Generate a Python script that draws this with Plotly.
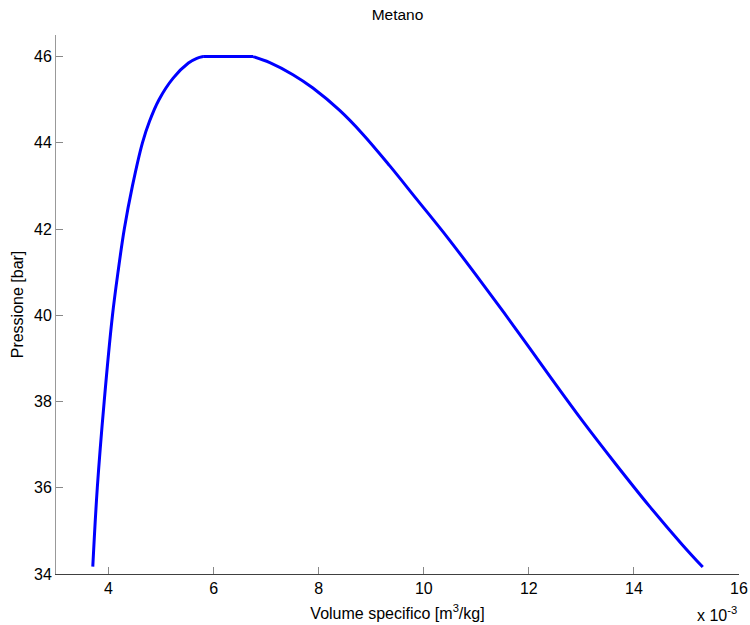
import plotly.graph_objects as go

# Saturation curve of methane: specific volume [m^3/kg] vs pressure [bar]
# saturated liquid branch
v_liquid = [0.003700, 0.003786, 0.003917, 0.004075, 0.004180, 0.004300,
            0.004455, 0.004645, 0.004780, 0.004960, 0.005230, 0.005520,
            0.005680, 0.005800]
p_liquid = [34.17, 36.00, 38.00, 40.00, 41.00, 42.00,
            43.00, 44.00, 44.50, 45.00, 45.50, 45.85,
            45.96, 46.00]

# plateau at the top of the dome
v_top = [0.005800, 0.006750]
p_top = [46.00, 46.00]

# saturated vapour branch
v_vapour = [0.00675, 0.00707, 0.00751, 0.00789, 0.00840, 0.00884, 0.00935,
            0.00986, 0.01046, 0.01112, 0.01176, 0.01239, 0.01302, 0.01366,
            0.01429, 0.01492, 0.01531]
p_vapour = [46.00, 45.86, 45.58, 45.27, 44.75, 44.20, 43.47,
            42.70, 41.79, 40.73, 39.67, 38.60, 37.55, 36.54,
            35.58, 34.68, 34.16]

x_tickvals = [0.004, 0.006, 0.008, 0.010, 0.012, 0.014, 0.016]
x_ticktext = ["4", "6", "8", "10", "12", "14", "16"]
y_tickvals = [34, 36, 38, 40, 42, 44, 46]

font_family = "Liberation Sans, Arial, sans-serif"
line_style = dict(color="#0000ff", width=3)

fig = go.Figure()
for xs, ys, shape in [(v_liquid, p_liquid, "spline"),
                      (v_top, p_top, "linear"),
                      (v_vapour, p_vapour, "spline")]:
    fig.add_trace(go.Scatter(
        x=xs, y=ys, mode="lines",
        line=dict(shape=shape, **line_style),
        hoverinfo="skip", showlegend=False,
    ))

fig.update_layout(
    width=750, height=625,
    margin=dict(l=56, r=11, t=35, b=51, autoexpand=False),
    paper_bgcolor="white", plot_bgcolor="white",
    font=dict(family=font_family, size=16, color="black"),
    title=dict(text="Metano", x=0.5, xref="paper", xanchor="center",
               y=1, yref="container", yanchor="top", pad=dict(t=9),
               font=dict(size=15.5, color="black")),
    xaxis=dict(
        range=[0.003, 0.016], tickvals=x_tickvals, ticktext=x_ticktext,
        ticks="inside", ticklen=7, tickcolor="#888888", tickwidth=1,
        showline=True, linecolor="#404040", linewidth=1,
        showgrid=False, zeroline=False, mirror=False, automargin=False,
        title=dict(text="Volume specifico [m<sup>3</sup>/kg]", standoff=11,
                   font=dict(size=16)),
        tickfont=dict(size=16),
    ),
    yaxis=dict(
        range=[34, 46.5], tickvals=y_tickvals,
        ticks="inside", ticklen=7, tickcolor="#888888", tickwidth=1,
        showline=True, linecolor="#999999", linewidth=1,
        showgrid=False, zeroline=False, mirror=False, automargin=False,
        title=dict(text="Pressione [bar]", standoff=6, font=dict(size=16)),
        tickfont=dict(size=16),
    ),
    annotations=[dict(
        text="x 10<sup>-3</sup>", xref="paper", yref="paper",
        x=1.0, y=0, xanchor="right", yanchor="middle", yshift=-40,
        showarrow=False, font=dict(size=16, color="black"),
    )],
)

fig.write_html("out.html")
